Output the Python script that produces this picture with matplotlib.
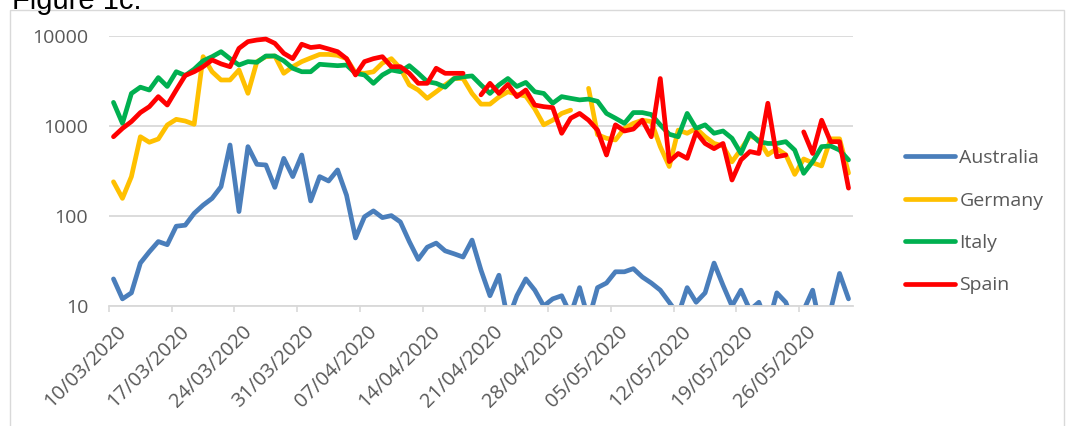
import numpy as np
import pandas as pd
import matplotlib
matplotlib.use("Agg")
import matplotlib.pyplot as plt
from matplotlib.transforms import ScaledTranslation
from matplotlib.patches import Rectangle

plt.rcParams['font.family'] = ['Open Sans', 'DejaVu Sans']

nan = np.nan
start_date = "2020-03-10"
n_days = 83

australia = [20, 12, 14, 30, 40, 52, 48, 77, 79, 107, 132, 157, 212, 615, 112, 590, 375, 369, 208, 437,
             274, 476, 147, 274, 245, 325, 170, 57, 98, 114, 96, 101, 86, 52, 33, 45, 50, 41, 38, 35,
             54, 25, 13, 22, 7, 13, 20, 15, 10, 12, 13, 8, 16, 7, 16, 18, 24, 24, 26, 21,
             18, 15, 11, 8, 16, 11, 14, 30, 17, 10, 15, 9, 11, 6, 14, 11, 6, 9, 15, 5,
             9, 23, 12]
germany = [240, 157, 274, 760, 660, 717, 1026, 1186, 1136, 1045, 5900, 4010, 3245, 3245, 4190, 2306, 5190, 5890, 6000, 3850,
           4560, 5190, 5700, 6240, 6240, 6100, 5600, 3900, 3850, 4000, 5000, 5600, 4380, 2860, 2510, 2030, 2400, 2860, 3370, 3370,
           2300, 1750, 1750, 2100, 2400, 2250, 2150, 1550, 1030, 1160, 1380, 1500, nan, 2620, 800, 730, 700, 940, 1070, 1160,
           1120, 590, 355, 900, 830, 940, 760, 640, 600, 400, 550, 780, 700, 480, 560, 480, 290, 430, 390, 360,
           720, 720, 300]
italy = [1830, 1070, 2300, 2700, 2510, 3450, 2750, 4010, 3640, 4280, 5300, 5890, 6700, 5600, 4760, 5190, 5100, 6000, 6000, 5300,
         4380, 4010, 4010, 4850, 4760, 4680, 4760, 3850, 3690, 2980, 3690, 4190, 4010, 4680, 3850, 3110, 2980, 2700, 3370, 3520,
         3600, 2860, 2300, 2860, 3370, 2750, 3050, 2400, 2300, 1790, 2120, 2030, 1950, 1990, 1880, 1380, 1220, 1070, 1410, 1410,
         1340, 1030, 810, 760, 1380, 940, 1030, 830, 880, 730, 495, 830, 670, 640, 640, 670, 540, 298, 402, 590,
         600, 540, 420]
spain = [760, 940, 1120, 1410, 1640, 2120, 1710, 2510, 3640, 4010, 4560, 5420, 4900, 4560, 7290, 8660, 9030, 9250, 8290, 6420,
         5600, 8100, 7450, 7650, 7170, 6700, 5600, 3690, 5190, 5600, 5890, 4560, 4560, 3850, 2980, 2980, 4380, 3850, 3850, 3850,
         nan, 2220, 2980, 2300, 2900, 2120, 2510, 1710, 1640, 1600, 830, 1220, 1380, 1160, 900, 476, 1030, 880, 925, 1160,
         760, 3370, 402, 495, 437, 850, 640, 560, 640, 251, 420, 520, 495, 1790, 455, 476, nan, 860, 495, 1160,
         670, 670, 204]

series_names = ["Australia", "Germany", "Italy", "Spain"]
series_values = [australia, germany, italy, spain]
series_colors = ["#4A7EBB", "#FFC000", "#00B050", "#FF0000"]

y_ticks = [10, 100, 1000, 10000]
y_labels = ["10", "100", "1000", "10000"]

dates = pd.date_range(start_date, periods=n_days, freq="D")
x = dates + pd.Timedelta(hours=12)

W, H = 1070, 426
fig = plt.figure(figsize=(W / 100, H / 100), dpi=100)
ax = fig.add_axes([109 / W, 1 - 306 / H, (853 - 109) / W, (306 - 36) / H])

for name, vals, col in zip(series_names, series_values, series_colors):
    ax.plot(x, vals, color=col, lw=3.4, solid_capstyle='round', solid_joinstyle='round', label=name)

ax.set_yscale('log')
ax.set_ylim(10, 10000)
ax.set_yticks(y_ticks)
ax.set_yticklabels(y_labels)
ax.yaxis.set_minor_locator(matplotlib.ticker.NullLocator())
ax.set_xlim(dates[0], dates[-1] + pd.Timedelta(days=1))

tick_dates = pd.date_range(start_date, dates[-1], freq="7D")
ax.set_xticks(tick_dates)
ax.set_xticklabels([d.strftime("%d/%m/%Y") for d in tick_dates])

ax.grid(axis='y', color='#D9D9D9', lw=1.3)
ax.set_axisbelow(True)
for s in ['top', 'right', 'left']:
    ax.spines[s].set_visible(False)
ax.spines['bottom'].set_color('#D9D9D9')
ax.spines['bottom'].set_linewidth(1.3)
ax.tick_params(axis='y', length=0, pad=15, labelsize=14, labelcolor='#595959')
ax.tick_params(axis='x', direction='out', length=4.5, width=1.2, color='#D9D9D9',
               pad=7, labelsize=14.5, labelcolor='#595959')
offset = ScaledTranslation(7 / 100, 0, fig.dpi_scale_trans)
for lab in ax.get_xticklabels():
    lab.set_rotation(45)
    lab.set_ha('right')
    lab.set_va('top')
    lab.set_rotation_mode('anchor')
    lab.set_transform(lab.get_transform() + offset)

leg = fig.legend(loc='upper left', bbox_to_anchor=(905 / W, 1 - 149 / H), frameon=False,
                 fontsize=14, handlelength=2.55, handletextpad=0.25, labelspacing=1.26,
                 borderpad=0, borderaxespad=0)
for t in leg.get_texts():
    t.set_color('#595959')
for h in leg.get_lines():
    h.set_linewidth(3.4)

fig.patches.append(Rectangle((10 / W, -0.1), (1064 - 10) / W, 1.1 - 10 / H, transform=fig.transFigure,
                             fill=False, edgecolor='#D9D9D9', lw=1))
fig.text(12 / W, 1 - 9 / H, "Figure 1c.", fontsize=21, va='baseline', ha='left', color='black',
         family=['Liberation Sans', 'DejaVu Sans'])

fig.savefig("out.png", dpi=100)
